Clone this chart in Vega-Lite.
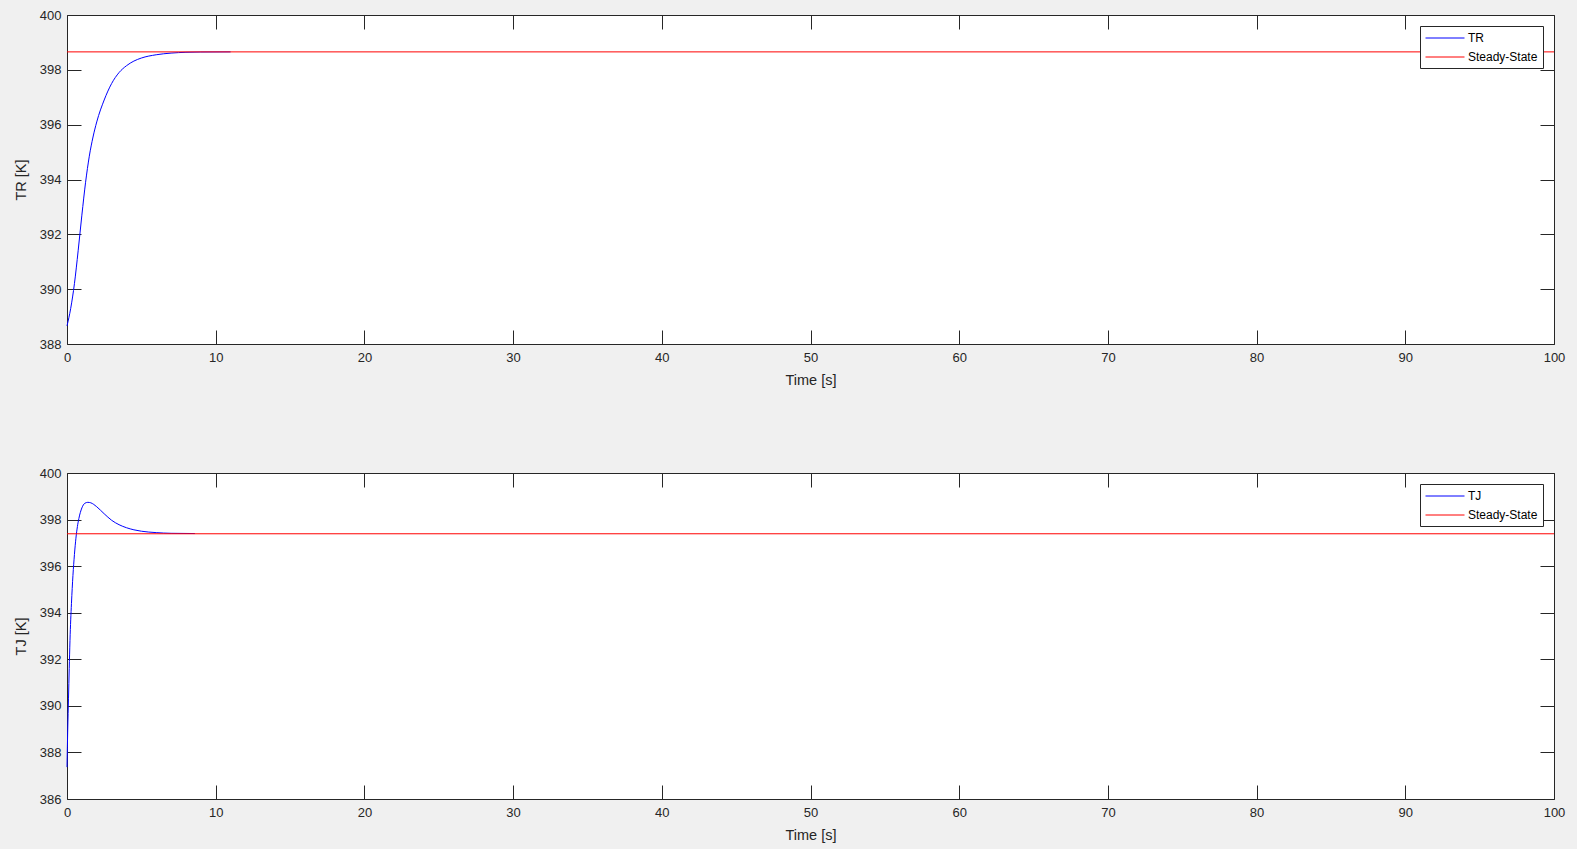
{
  "$schema": "https://vega.github.io/schema/vega-lite/v6.json",
  "background": "#f0f0f0",
  "padding": {"left": 12, "top": 8, "right": 23, "bottom": 7},
  "spacing": 79,
  "resolve": {"scale": {"color": "independent"}, "legend": {"color": "independent"}},
  "config": {
    "font": "Liberation Sans",
    "view": {"fill": "white", "stroke": "#262626", "strokeWidth": 1},
    "axis": {
      "domain": false,
      "grid": false,
      "labelFlush": false,
      "labelOverlap": false,
      "tickSize": -14,
      "tickColor": "#262626",
      "tickWidth": 1,
      "labelColor": "#262626",
      "labelFont": "Liberation Sans",
      "labelFontSize": 13,
      "titleFont": "Liberation Sans",
      "titleFontSize": 14.5,
      "titleFontWeight": "normal",
      "titleColor": "#262626"
    },
    "legend": {
      "padding": 5,
      "labelFont": "Liberation Sans",
      "labelFontSize": 12,
      "labelColor": "#000000",
      "symbolType": "M-1,0H5",
      "symbolSize": 169,
      "symbolStrokeWidth": 1,
      "labelOffset": 29,
      "rowPadding": 6,
      "strokeColor": "#262626",
      "fillColor": "white",
      "cornerRadius": 0,
      "offset": 11
    }
  },
  "vconcat": [
    {
      "width": 1487,
      "height": 329,
      "data": {"values": [
        {"t": 0, "v": 388.66, "s": "TR"},
        {"t": 0.25, "v": 389.3, "s": "TR"},
        {"t": 0.5, "v": 390.2, "s": "TR"},
        {"t": 0.75, "v": 391.4, "s": "TR"},
        {"t": 1.0, "v": 392.7, "s": "TR"},
        {"t": 1.25, "v": 393.9, "s": "TR"},
        {"t": 1.5, "v": 394.85, "s": "TR"},
        {"t": 1.75, "v": 395.55, "s": "TR"},
        {"t": 2.0, "v": 396.1, "s": "TR"},
        {"t": 2.5, "v": 396.9, "s": "TR"},
        {"t": 3.0, "v": 397.5, "s": "TR"},
        {"t": 3.5, "v": 397.9, "s": "TR"},
        {"t": 4.0, "v": 398.15, "s": "TR"},
        {"t": 4.5, "v": 398.32, "s": "TR"},
        {"t": 5.0, "v": 398.43, "s": "TR"},
        {"t": 6.0, "v": 398.55, "s": "TR"},
        {"t": 7.0, "v": 398.61, "s": "TR"},
        {"t": 8.0, "v": 398.64, "s": "TR"},
        {"t": 9.0, "v": 398.65, "s": "TR"},
        {"t": 11.0, "v": 398.655, "s": "TR"},
        {"t": 0, "v": 398.655, "s": "Steady-State"},
        {"t": 100, "v": 398.655, "s": "Steady-State"}
      ]},
      "layer": [
        {
          "mark": {"type": "line", "interpolate": "monotone", "strokeWidth": 1},
          "encoding": {
            "x": {"field": "t", "type": "quantitative", "scale": {"domain": [0, 100], "nice": false},
                  "axis": {"values": [0, 10, 20, 30, 40, 50, 60, 70, 80, 90, 100], "title": "Time [s]", "labelPadding": 21, "titlePadding": 9}},
            "y": {"field": "v", "type": "quantitative", "scale": {"domain": [388, 400], "nice": false, "zero": false},
                  "axis": {"values": [388, 390, 392, 394, 396, 398, 400], "title": "TR [K]", "labelPadding": 20, "titlePadding": 11}},
            "color": {"field": "s", "type": "nominal", "sort": ["TR", "Steady-State"],
                      "scale": {"domain": ["TR", "Steady-State"], "range": ["#0000ff", "#ff0000"]},
                      "legend": {"title": null, "orient": "top-right"}}
          }
        },
        {
          "mark": {"type": "point", "opacity": 0},
          "encoding": {
            "x": {"field": "t", "type": "quantitative", "axis": {"orient": "top", "labels": false, "title": null, "values": [0, 10, 20, 30, 40, 50, 60, 70, 80, 90, 100]}},
            "y": {"field": "v", "type": "quantitative", "axis": {"orient": "right", "labels": false, "title": null, "values": [388, 390, 392, 394, 396, 398, 400]}}
          }
        }
      ],
      "resolve": {"axis": {"x": "independent", "y": "independent"}}
    },
    {
      "width": 1487,
      "height": 326,
      "data": {"values": [
        {"t": 0, "v": 387.37, "s": "TJ"},
        {"t": 0.05, "v": 389.0, "s": "TJ"},
        {"t": 0.1, "v": 390.3, "s": "TJ"},
        {"t": 0.15, "v": 391.6, "s": "TJ"},
        {"t": 0.2, "v": 392.8, "s": "TJ"},
        {"t": 0.3, "v": 394.4, "s": "TJ"},
        {"t": 0.4, "v": 395.6, "s": "TJ"},
        {"t": 0.5, "v": 396.5, "s": "TJ"},
        {"t": 0.6, "v": 397.2, "s": "TJ"},
        {"t": 0.7, "v": 397.7, "s": "TJ"},
        {"t": 0.8, "v": 398.05, "s": "TJ"},
        {"t": 1.0, "v": 398.5, "s": "TJ"},
        {"t": 1.2, "v": 398.7, "s": "TJ"},
        {"t": 1.4, "v": 398.74, "s": "TJ"},
        {"t": 1.6, "v": 398.72, "s": "TJ"},
        {"t": 1.8, "v": 398.65, "s": "TJ"},
        {"t": 2.0, "v": 398.55, "s": "TJ"},
        {"t": 2.5, "v": 398.25, "s": "TJ"},
        {"t": 3.0, "v": 397.97, "s": "TJ"},
        {"t": 3.5, "v": 397.78, "s": "TJ"},
        {"t": 4.0, "v": 397.65, "s": "TJ"},
        {"t": 4.5, "v": 397.56, "s": "TJ"},
        {"t": 5.0, "v": 397.5, "s": "TJ"},
        {"t": 6.0, "v": 397.44, "s": "TJ"},
        {"t": 7.0, "v": 397.41, "s": "TJ"},
        {"t": 8.6, "v": 397.4, "s": "TJ"},
        {"t": 0, "v": 397.39, "s": "Steady-State"},
        {"t": 100, "v": 397.39, "s": "Steady-State"}
      ]},
      "layer": [
        {
          "mark": {"type": "line", "interpolate": "monotone", "strokeWidth": 1},
          "encoding": {
            "x": {"field": "t", "type": "quantitative", "scale": {"domain": [0, 100], "nice": false},
                  "axis": {"values": [0, 10, 20, 30, 40, 50, 60, 70, 80, 90, 100], "title": "Time [s]", "labelPadding": 21, "titlePadding": 9}},
            "y": {"field": "v", "type": "quantitative", "scale": {"domain": [386, 400], "nice": false, "zero": false},
                  "axis": {"values": [386, 388, 390, 392, 394, 396, 398, 400], "title": "TJ [K]", "labelPadding": 20, "titlePadding": 11}},
            "color": {"field": "s", "type": "nominal", "sort": ["TJ", "Steady-State"],
                      "scale": {"domain": ["TJ", "Steady-State"], "range": ["#0000ff", "#ff0000"]},
                      "legend": {"title": null, "orient": "top-right"}}
          }
        },
        {
          "mark": {"type": "point", "opacity": 0},
          "encoding": {
            "x": {"field": "t", "type": "quantitative", "axis": {"orient": "top", "labels": false, "title": null, "values": [0, 10, 20, 30, 40, 50, 60, 70, 80, 90, 100]}},
            "y": {"field": "v", "type": "quantitative", "axis": {"orient": "right", "labels": false, "title": null, "values": [386, 388, 390, 392, 394, 396, 398, 400]}}
          }
        }
      ],
      "resolve": {"axis": {"x": "independent", "y": "independent"}}
    }
  ]
}
